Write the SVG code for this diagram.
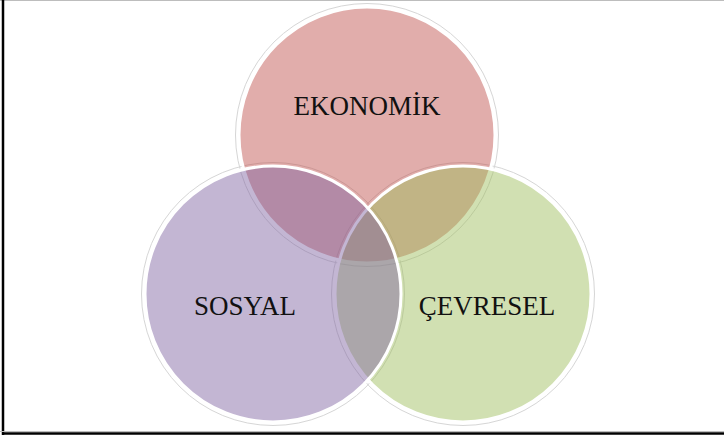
<svg xmlns="http://www.w3.org/2000/svg" width="724" height="439" viewBox="0 0 724 439">
  <style>
    .ring { fill: none; stroke: #d6d6d6; stroke-width: 1; }
    .fill { fill-opacity: 0.47; stroke: #ffffff; stroke-width: 3; }
    .lbl { font-family: "Liberation Serif", "Times New Roman", serif; font-size: 27px; fill: #111111; text-anchor: middle; }
  </style>
  <rect x="0" y="0" width="724" height="439" fill="#ffffff"/>
  <g id="frame">
    <line x1="0" y1="0.5" x2="724" y2="0.5" stroke="#bdbdbd" stroke-width="1"/>
    <line x1="3" y1="0" x2="3" y2="435" stroke="#000000" stroke-width="2.5"/>
    <line x1="0" y1="431.5" x2="724" y2="431.5" stroke="#bdbdbd" stroke-width="1"/>
    <line x1="2" y1="433.5" x2="724" y2="433.5" stroke="#000000" stroke-width="2.5"/>
  </g>
  <g id="rings">
    <circle class="ring" cx="367" cy="135" r="131.5"/>
    <circle class="ring" cx="463" cy="294" r="131.5"/>
    <circle class="ring" cx="273" cy="294" r="131.5"/>
  </g>
  <g id="ekonomik">
    <circle class="fill" cx="367" cy="135" r="128" fill="#C0504D"/>
  </g>
  <g id="cevresel">
    <circle class="fill" cx="463" cy="294" r="128" fill="#9EBD5C"/>
  </g>
  <g id="sosyal">
    <circle class="fill" cx="273" cy="294" r="128" fill="#8064A2"/>
  </g>
  <g id="labels">
    <text class="lbl" x="367" y="115">EKONOMİK</text>
    <text class="lbl" x="245" y="315">SOSYAL</text>
    <text class="lbl" x="487" y="315">ÇEVRESEL</text>
  </g>
</svg>
